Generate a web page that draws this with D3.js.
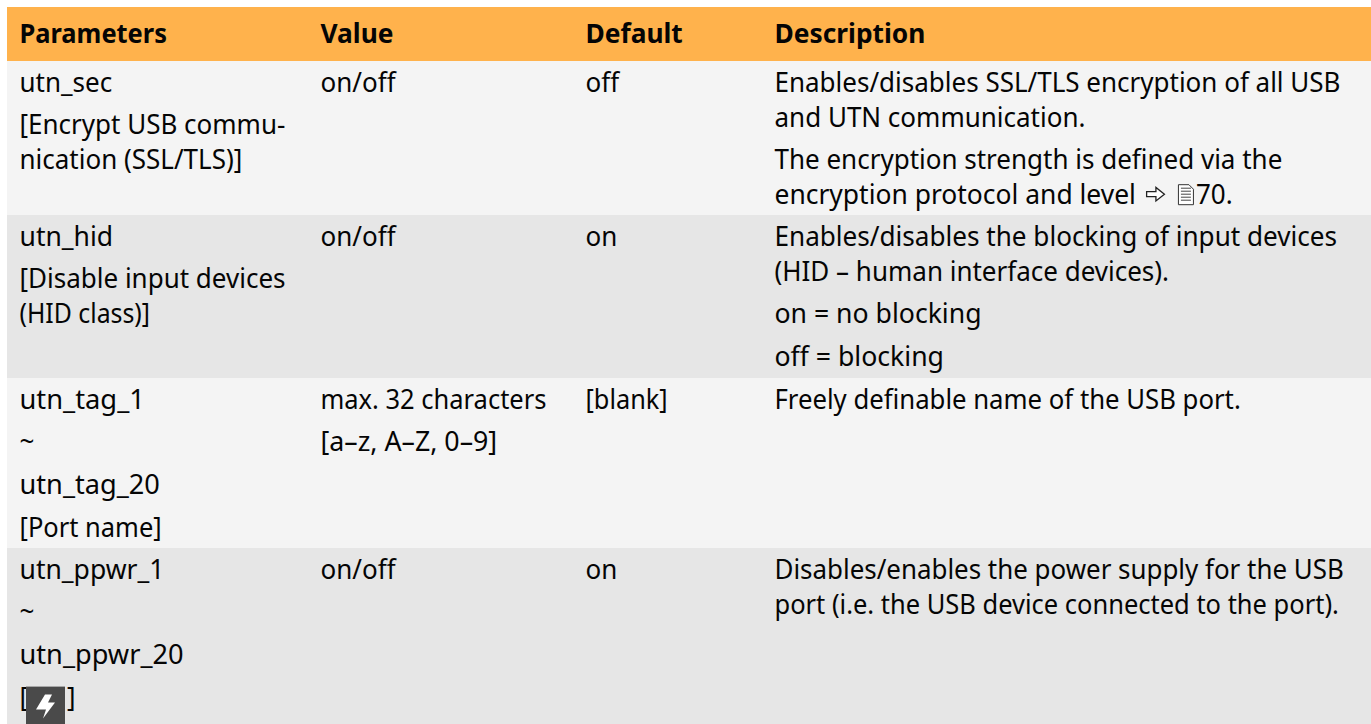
<!DOCTYPE html>
<html><head><meta charset="utf-8">
<script src="https://cdn.jsdelivr.net/npm/d3@7"></script>
<style>html,body{margin:0;padding:0;background:#fff;overflow:hidden}svg{display:block}</style></head>
<body><svg id="c" width="1371" height="724"></svg>
<script>
const columns = ["Parameters","Value","Default","Description"];
const parameters = [
  [["utn_sec"],["[Encrypt USB commu-","nication (SSL/TLS)]"]],
  [["utn_hid"],["[Disable input devices","(HID class)]"]],
  [["utn_tag_1"],["~"],["utn_tag_20"],["[Port name]"]],
  [["utn_ppwr_1"],["~"],["utn_ppwr_20"],["[\u2003\u2002]"]]
];
const values = [
  [["on/off"]],
  [["on/off"]],
  [["max. 32 characters"],["[a\u2013z, A\u2013Z, 0\u20139]"]],
  [["on/off"]]
];
const defaults = [[["off"]],[["on"]],[["[blank]"]],[["on"]]];
const descriptions = [
  [["Enables/disables SSL/TLS encryption of all USB","and UTN communication."],["The encryption strength is defined via the","encryption protocol and level|70."]],
  [["Enables/disables the blocking of input devices","(HID \u2013 human interface devices)."],["on = no blocking"],["off = blocking"]],
  [["Freely definable name of the USB port."]],
  [["Disables/enables the power supply for the USB","port (i.e. the USB device connected to the port)."]]
];
const rowNames = ["sec","hid","tag","ppwr"];
const rowHeights = [154,163,170,176];
const rowFills = ["#f4f4f4","#e6e6e6","#f4f4f4","#e6e6e6"];
// typeset width multipliers for lines whose run differs from the default face
const fit = new Map([
  ["Parameters",0.966],["port (i.e. the USB device connected to the port).",0.98],
  ["Disables/enables the power supply for the USB",0.997],["Freely definable name of the USB port.",0.99],
  ["on = no blocking",1.024],["off = blocking",1.024],["Enables/disables the blocking of input devices",1.005],
  ["(HID class)]",0.955],["utn_tag_1",1.05],["utn_tag_20",1.045],["[Port name]",0.98],
  ["utn_ppwr_1",1.02],["utn_ppwr_20",1.045],["max. 32 characters",0.98],["[a\u2013z, A\u2013Z, 0\u20139]",1.03],
  ["[blank]",0.975],["encryption protocol and level",1.017],["utn_hid",1.02]
]);

const W=1371, left=7, headTop=7, headH=54, lineStep=35, paraStep=42.7, firstBase=30.5;
const fontSize=27, regScale=0.963, boldScale=0.975, family="'Noto Sans',sans-serif";
const svg=d3.select("#c");
const x=d3.scaleOrdinal().domain(columns).range([19.5,320.5,585.5,774.5]);
let acc=headTop+headH;
const rowTops=rowHeights.map(h=>{const t=acc;acc+=h;return t;});
const y=d3.scaleOrdinal().domain(rowNames).range(rowTops);

svg.append("rect").attr("x",left).attr("y",headTop).attr("width",W-left).attr("height",headH).attr("fill","#ffb24c");
svg.selectAll(".row").data(rowNames).join("rect").attr("class","row")
  .attr("x",left).attr("y",d=>y(d)).attr("width",W-left)
  .attr("height",(d,i)=>rowHeights[i]).attr("fill",(d,i)=>rowFills[i]);

function sx(t,bold){return (bold?boldScale:regScale)*(fit.get(t)||1);}
function put(px,py,t,bold){
  return svg.append("text").attr("transform",`translate(${px},${py}) scale(${sx(t,bold)},1)`)
    .attr("font-family",family).attr("font-size",fontSize).attr("font-weight",bold?700:400)
    .attr("fill","#050505").text(t);
}
columns.forEach(c=>put(x(c),headTop+36,c,true));
const cols=[parameters,values,defaults,descriptions];
let boltBase=null;
cols.forEach((col,ci)=>col.forEach((paras,ri)=>{
  let b=y(rowNames[ri])+firstBase;
  paras.forEach((p,pi)=>{
    if(pi>0) b+=paraStep;
    p.forEach((line,li)=>{
      if(li>0) b+=lineStep;
      if(line.includes("|")){
        const [a,c]=line.split("|");
        const t=put(x(columns[ci]),b,a,false);
        const end=x(columns[ci])+t.node().getComputedTextLength()*sx(a,false);
        const ar=svg.append("g").attr("transform",`translate(${end+10},${b-18})`);
        ar.append("path").attr("d","M.7 5.5H10V1.2L18.5 8L10 14.8V10.5H.7Z").attr("fill","#fff").attr("stroke","#222").attr("stroke-width",1.3);
        const g=svg.append("g").attr("transform",`translate(${end+42},${b-20})`);
        g.append("path").attr("d","M.5.5H11L15.5 5V20.5H.5Z").attr("fill","#fff").attr("stroke","#333");
        g.selectAll("line").data([4,7,10,13,16]).join("line").attr("x1",3).attr("x2",13).attr("y1",d=>d).attr("y2",d=>d).attr("stroke","#444");
        put(end+60,b,c,false);
      } else {
        put(x(columns[ci]),b,line,false);
        if(line.startsWith("[\u2003")) boltBase=b;
      }
    });
  });
}));
if(boltBase!==null){
  const g=svg.append("g").attr("transform",`translate(26,${boltBase-20})`);
  g.append("rect").attr("width",39).attr("height",38).attr("fill","#4a4a4a");
  g.append("path").attr("d","M19 8H26L22 16H29L17 32L20 23H10Z").attr("fill","#fff");
}
</script></body></html>
